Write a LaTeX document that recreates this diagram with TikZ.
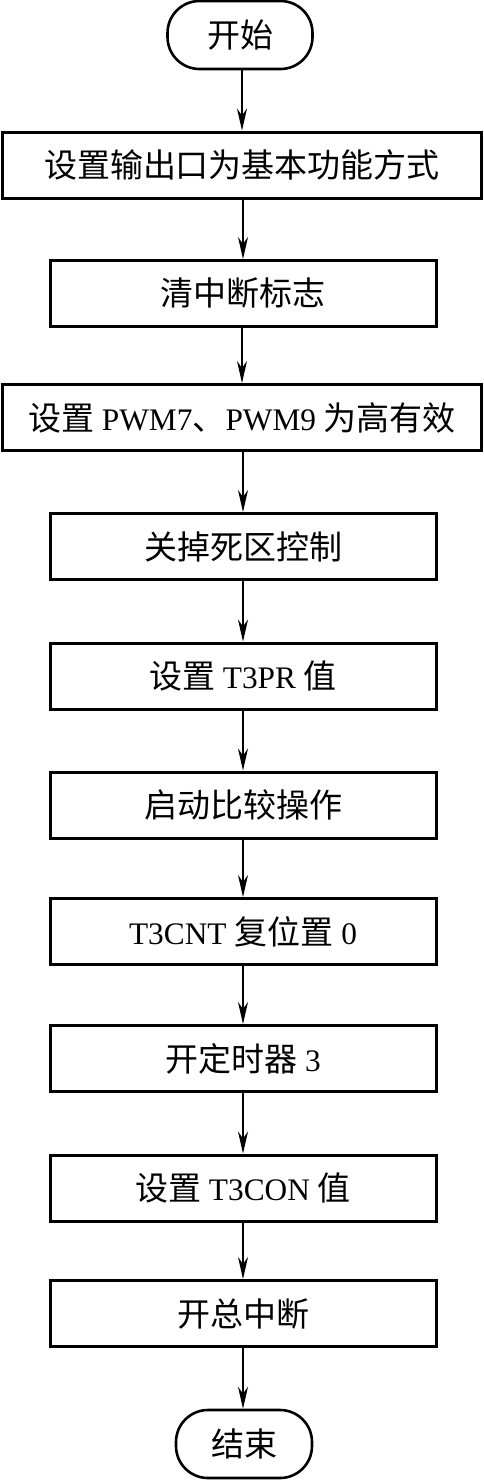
\documentclass[tikz,border=0pt]{standalone}
\usepackage{fontspec}
\setmainfont{Liberation Serif}[Scale=0.95]
\newfontfamily\cjk{Noto Sans CJK SC}
\usetikzlibrary{arrows.meta}
\newcommand\zhtxt[1]{{\cjk #1}}
\begin{document}
\begin{tikzpicture}[x=1pt,y=-1pt,
  every node/.style={font=\fontsize{33}{40}\selectfont},
  wide/.style={draw, line width=3pt, minimum width=479pt, minimum height=66pt, inner sep=0pt},
  narrow/.style={draw, line width=3pt, minimum width=386pt, minimum height=66pt, inner sep=0pt},
  term/.style={draw, line width=2.6pt, rounded corners=32pt, minimum height=68pt, inner sep=0pt},
  arr/.style={line width=1.2pt, -{Stealth[length=22pt,width=10pt,inset=7pt]}}
]
\useasboundingbox (0,0) rectangle (483,1481);
\node[term, minimum width=145pt] (start) at (240,35) {\zhtxt{开始}};
\node[wide]   (b1)  at (242,165)   {\zhtxt{设置输出口为基本功能方式}};
\node[narrow] (b2)  at (243,293.5) {\zhtxt{清中断标志}};
\node[wide]   (b3)  at (242,417.5) {\zhtxt{设置} PWM7\zhtxt{、}PWM9 \zhtxt{为高有效}};
\node[narrow] (b4)  at (243,546.5) {\zhtxt{关掉死区控制}};
\node[narrow] (b5)  at (243,676)   {\zhtxt{设置} T3PR \zhtxt{值}};
\node[narrow] (b6)  at (243,805)   {\zhtxt{启动比较操作}};
\node[narrow] (b7)  at (243,931.5) {T3CNT \zhtxt{复位置} 0};
\node[narrow] (b8)  at (243,1058.5){\zhtxt{开定时器} 3};
\node[narrow] (b9)  at (243,1188)  {\zhtxt{设置} T3CON \zhtxt{值}};
\node[narrow] (b10) at (243,1313.5){\zhtxt{开总中断}};
\node[term, minimum width=136pt] (end) at (244,1444) {\zhtxt{结束}};
\draw[arr] (start.south -| b1.north) -- (b1.north);
\draw[arr] (b1.south -| b2.north) -- (b2.north);
\draw[arr] (b2.south -| b3.north) -- (b3.north);
\draw[arr] (b3.south -| b4.north) -- (b4.north);
\draw[arr] (b4) -- (b5);
\draw[arr] (b5) -- (b6);
\draw[arr] (b6) -- (b7);
\draw[arr] (b7) -- (b8);
\draw[arr] (b8) -- (b9);
\draw[arr] (b9) -- (b10);
\draw[arr] (b10.south) -- (b10.south |- end.north);
\end{tikzpicture}
\end{document}
